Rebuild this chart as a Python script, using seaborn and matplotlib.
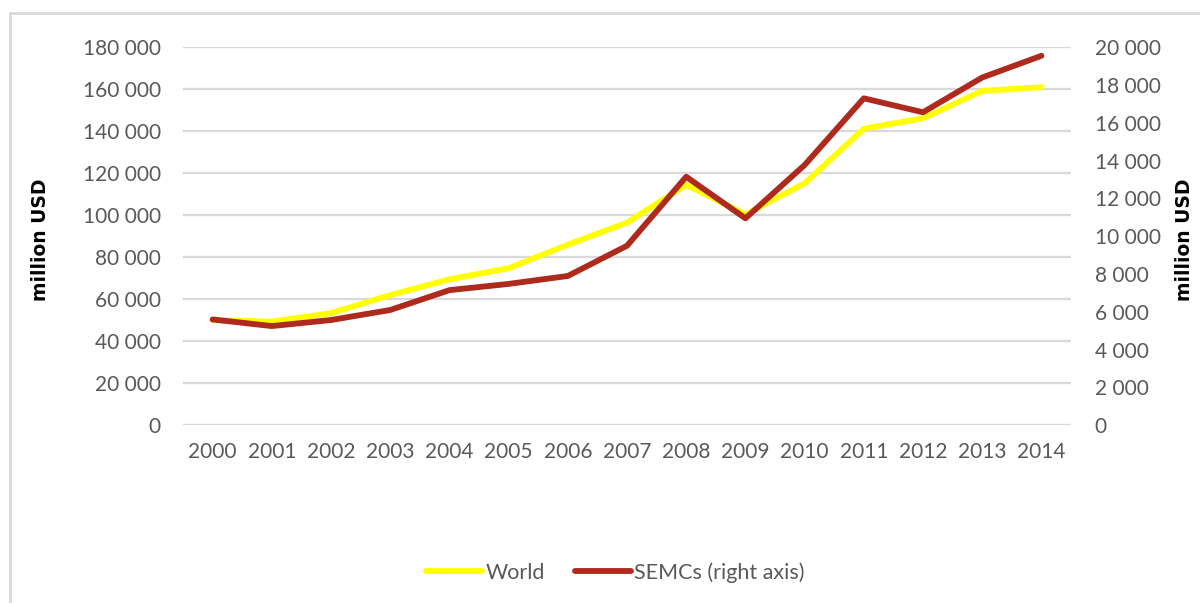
import matplotlib
matplotlib.use("Agg")
import matplotlib.pyplot as plt
from matplotlib.lines import Line2D
from matplotlib.ticker import FuncFormatter
import seaborn as sns
import pandas as pd

years = [2000, 2001, 2002, 2003, 2004, 2005, 2006, 2007,
         2008, 2009, 2010, 2011, 2012, 2013, 2014]
world = [50100, 49400, 53400, 62000, 69500, 74800, 86000, 96500,
         114500, 100400, 115200, 141200, 146200, 159200, 161000]
semcs = [5600, 5250, 5570, 6100, 7150, 7480, 7900, 9500,
         13150, 10950, 13770, 17300, 16560, 18400, 19550]
left_ticks = list(range(0, 180001, 20000))
right_ticks = list(range(0, 20001, 2000))

df = pd.DataFrame({"pos": range(len(years)), "World": world, "SEMCs": semcs})

sns.set_theme(style="white")
plt.rcParams["font.family"] = ["Lato", "DejaVu Sans"]

YELLOW = "#FFFF00"
RED = "#AD2A1C"
GRID = "#D9D9D9"
TXT = "#595959"

fig = plt.figure(figsize=(12, 6.03), dpi=100)
ax = fig.add_axes([0.1525, 0.2947, 0.74, 0.6269])
ax2 = ax.twinx()

sns.lineplot(data=df, x="pos", y="World", ax=ax, color=YELLOW, lw=4.2,
             label="World", legend=False)
sns.lineplot(data=df, x="pos", y="SEMCs", ax=ax2, color=RED, lw=4.2,
             label="SEMCs (right axis)", legend=False)

fmt = FuncFormatter(lambda v, p: f"{int(v):,}".replace(",", " "))

ax.set_xlim(-0.5, len(years) - 0.5)
ax.set_ylim(0, 180000)
ax2.set_ylim(0, 20000)
ax.set_yticks(left_ticks)
ax2.set_yticks(right_ticks)
ax.yaxis.set_major_formatter(fmt)
ax2.yaxis.set_major_formatter(fmt)
ax.set_xticks(range(len(years)))
ax.set_xticklabels([str(y) for y in years])

ax.grid(axis="y", color=GRID, lw=1.6)
ax.grid(axis="x", visible=False)
ax2.grid(False)
for a in (ax, ax2):
    for s in a.spines.values():
        s.set_visible(False)
    a.set_xlabel("")

ax.tick_params(axis="y", length=0, pad=16, labelsize=15, labelcolor=TXT)
ax2.tick_params(axis="y", length=0, pad=17, labelsize=15, labelcolor=TXT)
ax.tick_params(axis="x", length=0, pad=12, labelsize=15, labelcolor=TXT)

label_font = dict(fontsize=13.5, fontweight="bold", color="black",
                  family="DejaVu Sans")
ax.set_ylabel("million USD", **label_font)
ax2.set_ylabel("million USD", rotation=90, **label_font)
ax.yaxis.set_label_coords(-0.150, 0.49)
ax2.yaxis.set_label_coords(1.117, 0.49)

handles = [Line2D([], [], color=YELLOW, lw=4.2, solid_capstyle="round"),
           Line2D([], [], color=RED, lw=4.2, solid_capstyle="round")]
fig.legend(handles, ["World", "SEMCs (right axis)"], loc="center",
           bbox_to_anchor=(0.513, 0.051), ncol=2, frameon=False,
           fontsize=15.5, labelcolor=TXT, handlelength=2.6,
           handletextpad=0.15, columnspacing=1.4)

# chart area border (top and left edges)
fig.add_artist(Line2D([0.0083, 1.0], [0.978, 0.978], transform=fig.transFigure,
                      color=GRID, lw=2))
fig.add_artist(Line2D([0.0083, 0.0083], [0.0, 0.978], transform=fig.transFigure,
                      color=GRID, lw=2))

fig.savefig("out.png", dpi=100, facecolor="white")
